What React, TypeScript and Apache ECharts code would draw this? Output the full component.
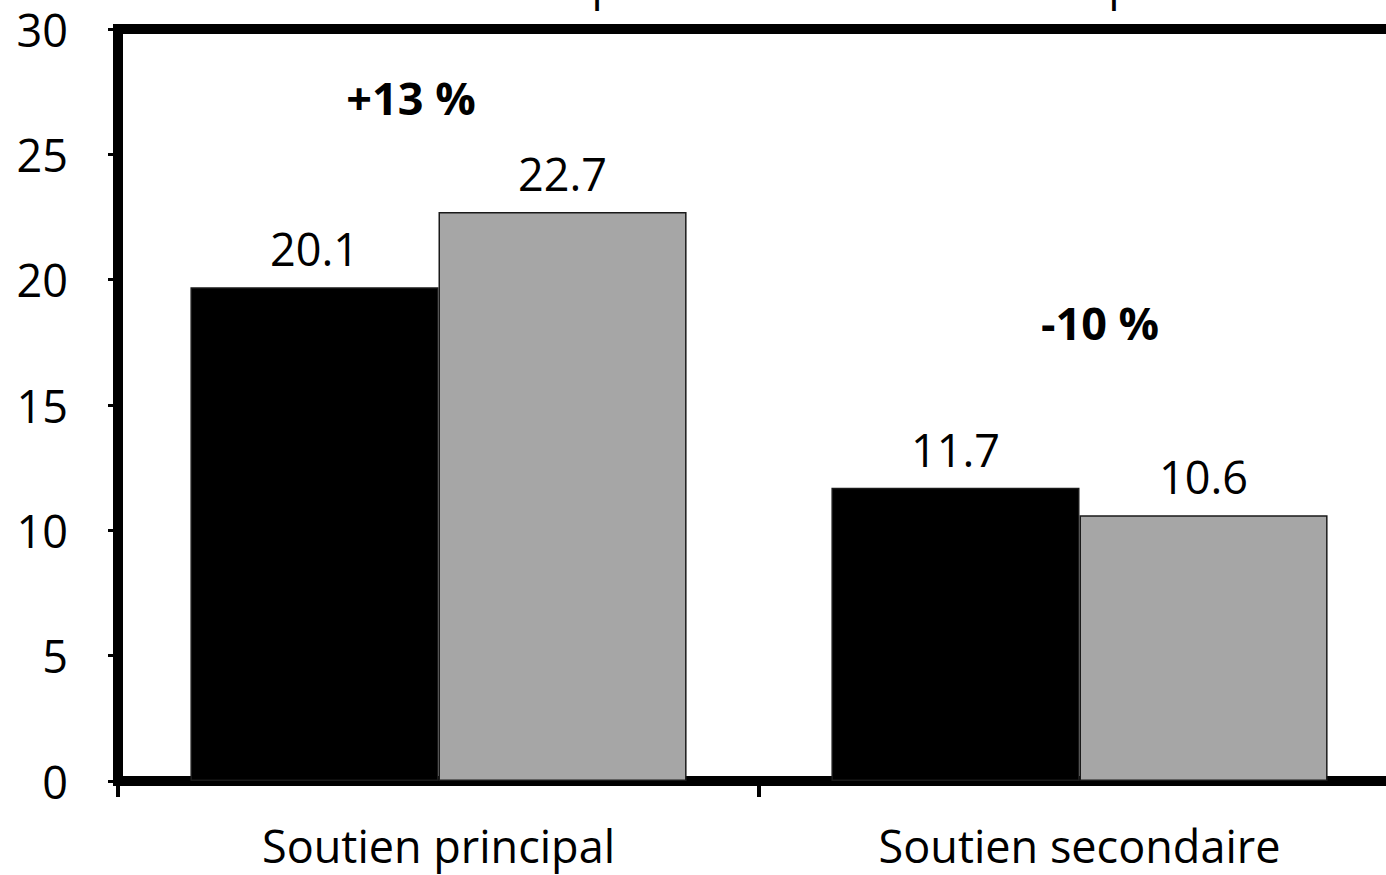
import React, { useEffect, useRef } from "react";
import * as echarts from "echarts";

const categories = ["Soutien principal", "Soutien secondaire"];
const seriesNames = ["Aidant unique", "Aidants multiples"];
const seriesA = [19.7, 11.7];
const seriesALabels = ["20.1", "11.7"];
const seriesB = [22.7, 10.6];
const seriesBLabels = ["22.7", "10.6"];
const yTicks = { min: 0, max: 30, interval: 5 };
const annotations = [
  { text: "+13 %", x: 411, y: 97 },
  { text: "-10 %", x: 1100, y: 322 },
];

const FONT = "'Open Sans', 'Noto Sans', sans-serif";
const FS = 45;

export default function App() {
  const ref = useRef<HTMLDivElement>(null);
  useEffect(() => {
    document.body.style.margin = "0";
    document.body.style.overflow = "hidden";
    const chart = echarts.init(ref.current!, null, { renderer: "svg" });
    const labelStyle = {
      show: true,
      position: "top" as const,
      distance: 16,
      color: "#000",
      fontFamily: FONT,
      fontSize: FS,
    };
    const legendBase = {
      top: -45,
      itemWidth: 30,
      itemHeight: 30,
      icon: "rect",
      textStyle: { fontSize: FS, color: "#000", fontFamily: FONT },
    };
    chart.setOption({
      animation: false,
      backgroundColor: "#fff",
      textStyle: { fontFamily: FONT },
      legend: [
        { ...legendBase, data: [seriesNames[0]], left: 320 },
        { ...legendBase, data: [seriesNames[1]], left: 790 },
      ],
      grid: {
        left: 118,
        top: 29,
        bottom: 94,
        right: 0,
        show: true,
        borderColor: "#000",
        borderWidth: 10,
        backgroundColor: "transparent",
        containLabel: false,
      },
      xAxis: {
        type: "category",
        data: categories,
        boundaryGap: true,
        axisLine: { show: true, lineStyle: { color: "#000", width: 10 } },
        axisTick: { show: true, length: 16, lineStyle: { color: "#000", width: 4 } },
        axisLabel: { color: "#000", fontSize: FS, fontFamily: FONT, margin: 42 },
        splitLine: { show: false },
      },
      yAxis: {
        type: "value",
        min: yTicks.min,
        max: yTicks.max,
        interval: yTicks.interval,
        axisLine: { show: true, lineStyle: { color: "#000", width: 10 } },
        axisTick: { show: true, length: 10, lineStyle: { color: "#000", width: 3 } },
        axisLabel: { color: "#000", fontSize: FS, fontFamily: FONT, margin: 50 },
        splitLine: { show: false },
      },
      series: [
        {
          name: seriesNames[0],
          type: "bar",
          data: seriesA,
          barWidth: "38.7%",
          barGap: "0%",
          itemStyle: { color: "#000", borderColor: "#1a1a1a", borderWidth: 1.5 },
          label: { ...labelStyle, formatter: (p: any) => seriesALabels[p.dataIndex] },
        },
        {
          name: seriesNames[1],
          type: "bar",
          data: seriesB,
          barWidth: "38.7%",
          barGap: "0%",
          itemStyle: { color: "#a6a6a6", borderColor: "#1a1a1a", borderWidth: 1.5 },
          label: { ...labelStyle, formatter: (p: any) => seriesBLabels[p.dataIndex] },
        },
      ],
      graphic: annotations.map((a) => ({
        type: "text",
        x: a.x,
        y: a.y,
        style: {
          text: a.text,
          fontFamily: FONT,
          fontSize: FS,
          fontWeight: "bold",
          fill: "#000",
          textAlign: "center",
          textVerticalAlign: "middle",
        },
      })),
    });
    return () => chart.dispose();
  }, []);
  return <div ref={ref} style={{ width: 1400, height: 875 }} />;
}
